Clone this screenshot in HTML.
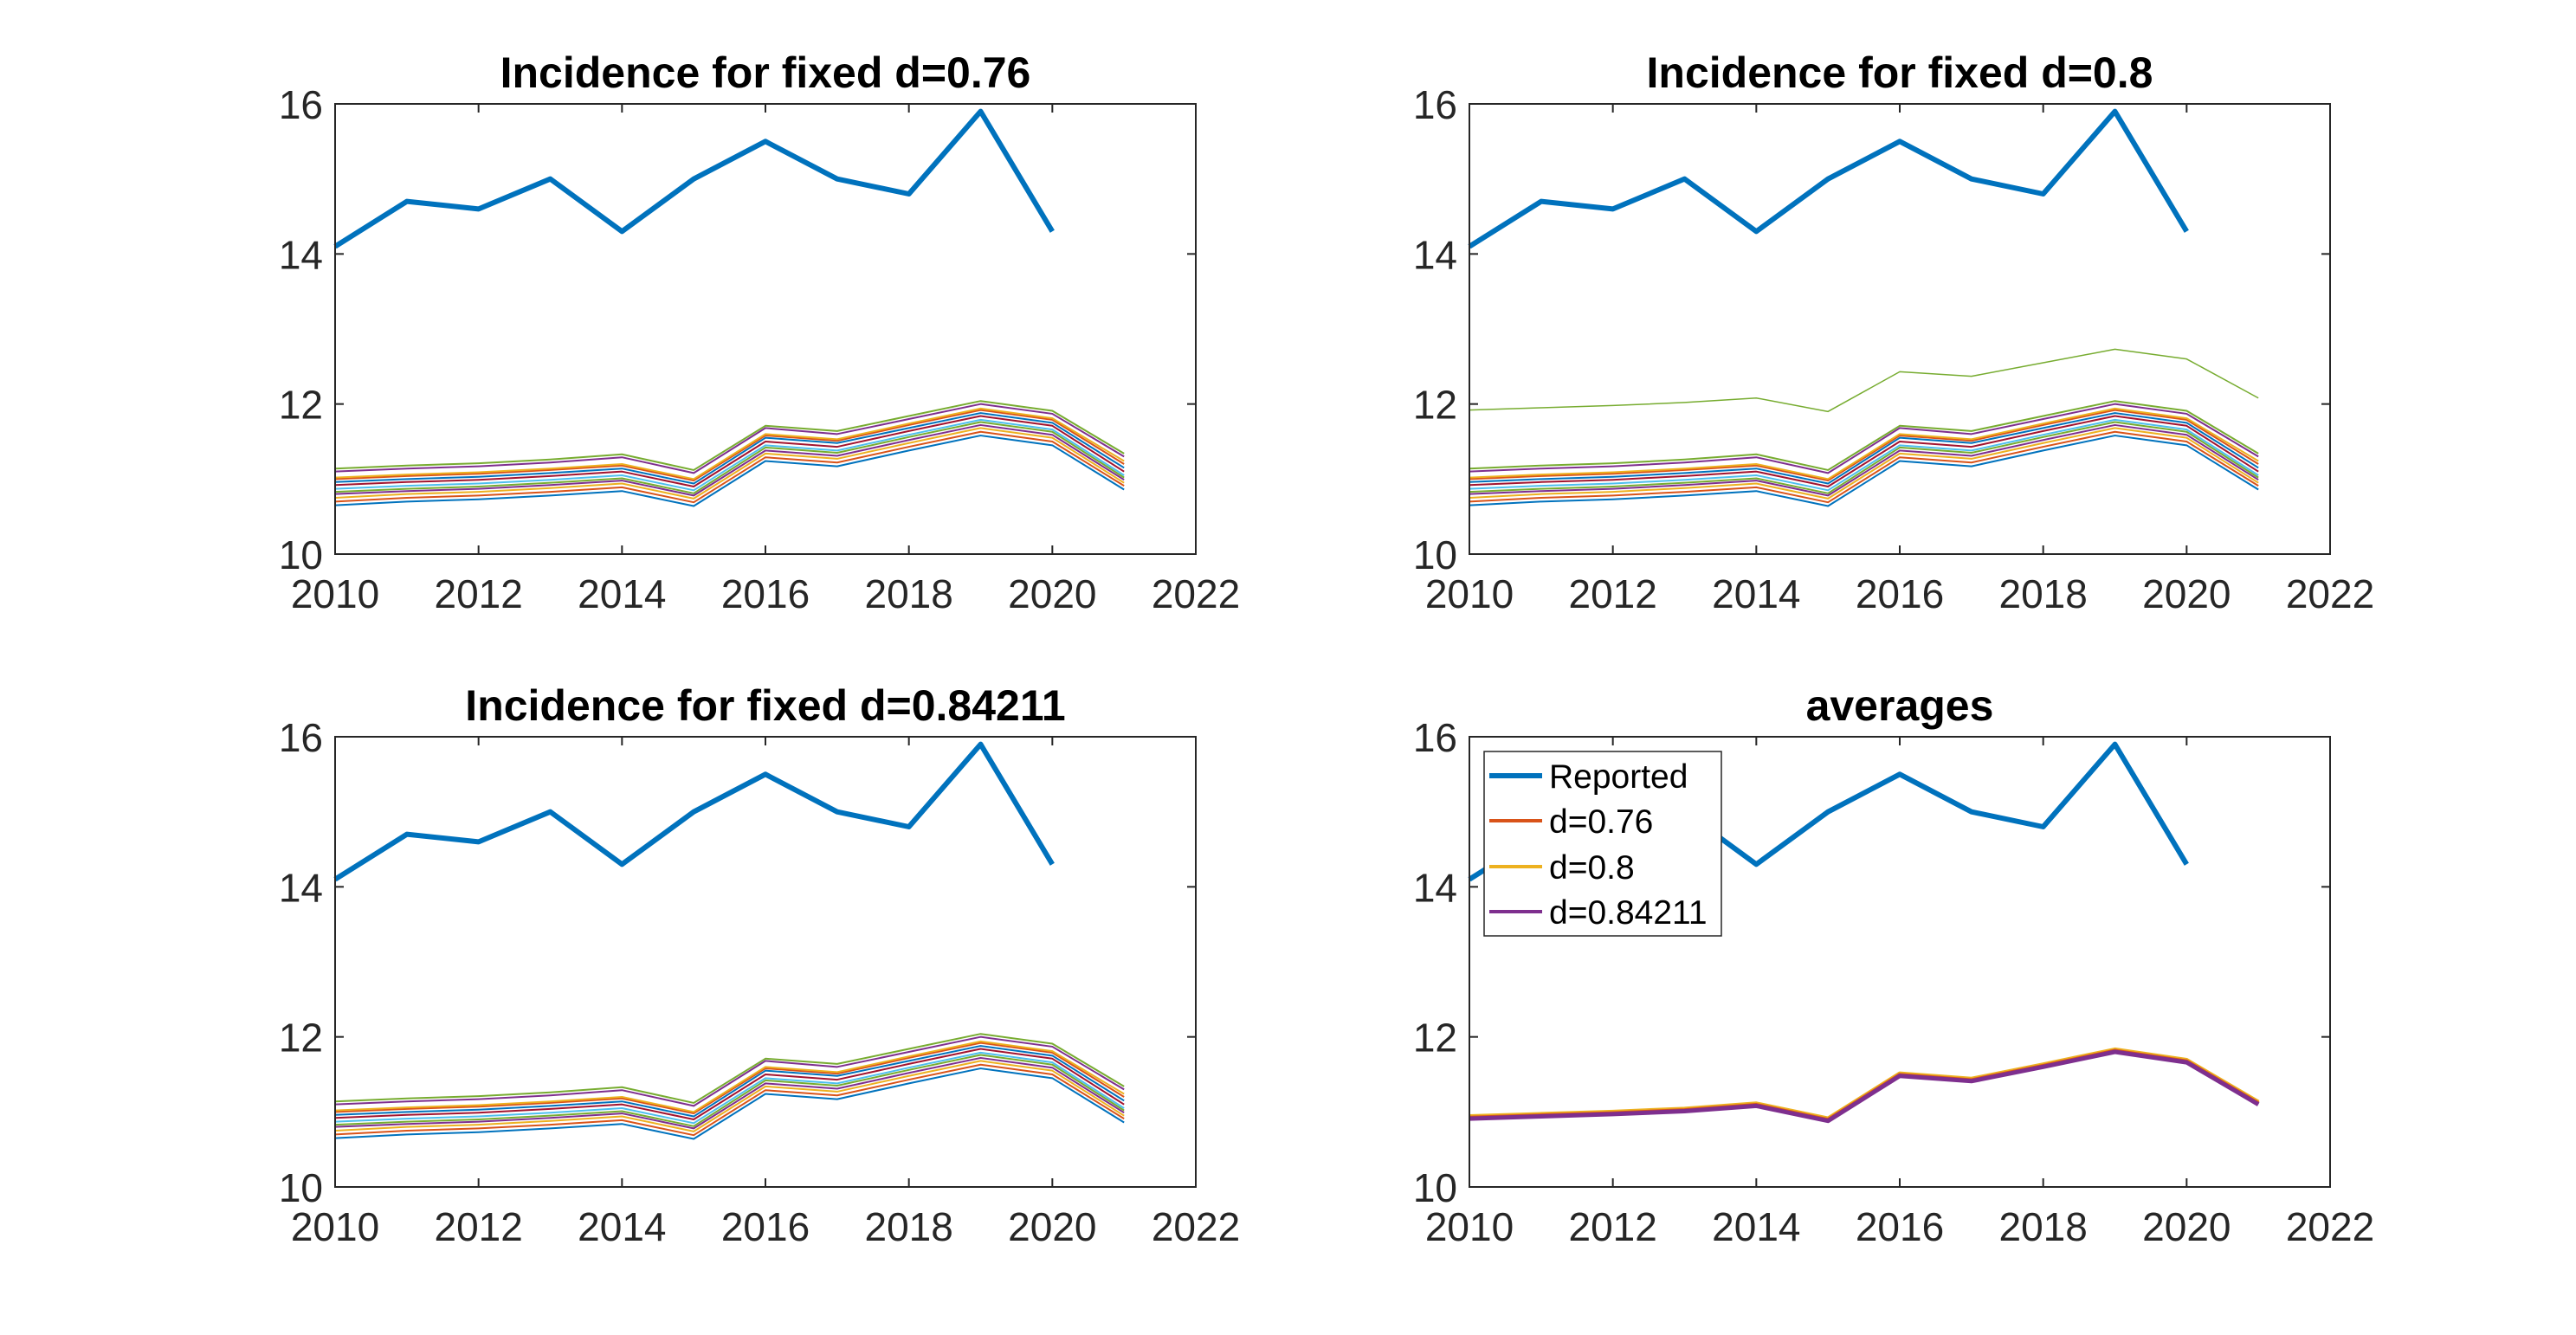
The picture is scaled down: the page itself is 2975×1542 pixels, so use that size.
<!DOCTYPE html>
<html><head><meta charset="utf-8"><style>
html,body{margin:0;padding:0;background:#fff;}
svg{display:block;font-family:"Liberation Sans",Arial,sans-serif;}
</style></head><body>
<svg id="fig" width="2975" height="1542" viewBox="0 0 2975 1542" xmlns="http://www.w3.org/2000/svg"></svg>
<script>
const years=[2010,2011,2012,2013,2014,2015,2016,2017,2018,2019,2020,2021];
const reportedYears=[2010,2011,2012,2013,2014,2015,2016,2017,2018,2019,2020];
const reported=[14.1,14.7,14.6,15.0,14.3,15.0,15.5,15.0,14.8,15.9,14.3];
const xTicks=[2010,2012,2014,2016,2018,2020,2022];
const yTicks=[10,12,14,16];
const colors=['#0072BD','#D95319','#EDB120','#7E2F8E','#77AC30','#4DBEEE','#A2142F'];
const fan1=[
[10.65,10.70,10.73,10.78,10.84,10.64,11.24,11.17,11.38,11.58,11.45,10.86],
[10.70,10.75,10.78,10.83,10.89,10.69,11.29,11.22,11.43,11.63,11.50,10.91],
[10.75,10.80,10.83,10.88,10.94,10.74,11.34,11.27,11.48,11.68,11.55,10.95],
[10.80,10.84,10.87,10.92,10.98,10.78,11.38,11.31,11.52,11.72,11.59,10.99],
[10.83,10.87,10.90,10.95,11.01,10.81,11.42,11.35,11.56,11.76,11.63,11.02],
[10.87,10.91,10.94,10.99,11.05,10.85,11.45,11.38,11.59,11.79,11.66,11.05],
[10.92,10.96,10.99,11.04,11.10,10.90,11.50,11.43,11.64,11.84,11.71,11.10],
[10.96,11.00,11.03,11.08,11.14,10.94,11.55,11.48,11.68,11.88,11.75,11.15],
[11.00,11.04,11.07,11.12,11.18,10.98,11.58,11.51,11.72,11.92,11.79,11.20],
[11.02,11.06,11.09,11.14,11.20,11.00,11.60,11.53,11.74,11.94,11.81,11.24],
[11.10,11.14,11.17,11.22,11.29,11.08,11.68,11.60,11.80,12.00,11.87,11.30],
[11.14,11.18,11.21,11.26,11.33,11.12,11.71,11.64,11.84,12.04,11.91,11.34]];
const fan2extra=[11.92,11.95,11.98,12.02,12.08,11.90,12.43,12.37,12.55,12.73,12.60,12.08];
const avg76=[10.92,10.95,10.98,11.02,11.09,10.89,11.49,11.42,11.61,11.81,11.67,11.11];
const avg80=[10.94,10.97,11.00,11.04,11.11,10.91,11.51,11.44,11.63,11.83,11.69,11.13];
const avg84=[10.91,10.94,10.97,11.01,11.08,10.88,11.48,11.41,11.60,11.80,11.66,11.10];
const titles=['Incidence for fixed d=0.76','Incidence for fixed d=0.8','Incidence for fixed d=0.84211','averages'];
const legendLabels=['Reported','d=0.76','d=0.8','d=0.84211'];

const NS='http://www.w3.org/2000/svg';
const svg=document.getElementById('fig');
function mk(tag,attrs,parent){const e=document.createElementNS(NS,tag);for(const k in attrs)e.setAttribute(k,attrs[k]);(parent||svg).appendChild(e);return e;}
const boxes=[[387,120,1381,640],[1697,120,2691,640],[387,851,1381,1371],[1697,851,2691,1371]];
const panelNames=['panel-d076','panel-d08','panel-d084211','panel-averages'];

boxes.forEach((b,pi)=>{
  const [L,T,R,B]=b;
  const g=mk('g',{});
  
  
  const sx=v=>L+(v-2010)/(2022-2010)*(R-L);
  const sy=v=>B-(v-10)/(16-10)*(B-T);
  const line=(xs,ys,col,w,name)=>{
    const p=mk('polyline',{points:xs.map((x,i)=>sx(x)+','+sy(ys[i])).join(' '),fill:'none',stroke:col,'stroke-width':w,'stroke-linejoin':'round'},g);
    
    
  };
  if(pi<3){
    fan1.forEach((s,i)=>line(years,s,colors[i%7],2,'model-line-'+(i+1)));
    if(pi===1) line(years,fan2extra,'#77AC30',1.5,'model-line-high');
  } else {
    line(years,avg80,'#EDB120',5,'avg-line-d08');
    line(years,avg76,'#D95319',5,'avg-line-d076');
    line(years,avg84,'#7E2F8E',5,'avg-line-d084211');
  }
  line(reportedYears,reported,'#0072BD',6,'reported-line');
  const fr=mk('rect',{x:L,y:T,width:R-L,height:B-T,fill:'none',stroke:'#262626','stroke-width':2},g);
  
  
  xTicks.forEach(t=>{
    const x=sx(t);
    mk('line',{x1:x,y1:B,x2:x,y2:B-10,stroke:'#262626','stroke-width':2},g);
    mk('line',{x1:x,y1:T,x2:x,y2:T+10,stroke:'#262626','stroke-width':2},g);
    const tx=mk('text',{x:x,y:B+62,'text-anchor':'middle','font-size':46,fill:'#262626'},g);
    tx.textContent=t;
    
    
  });
  yTicks.forEach(t=>{
    const y=sy(t);
    mk('line',{x1:L,y1:y,x2:L+10,y2:y,stroke:'#262626','stroke-width':2},g);
    mk('line',{x1:R,y1:y,x2:R-10,y2:y,stroke:'#262626','stroke-width':2},g);
    const tx=mk('text',{x:L-14,y:y+17,'text-anchor':'end','font-size':46,fill:'#262626'},g);
    tx.textContent=t;
    
    
  });
  const ti=mk('text',{x:(L+R)/2,y:T-19,'text-anchor':'middle','font-size':50,'font-weight':'bold',fill:'#000'},g);
  ti.textContent=titles[pi];
  
  
});

// legend
const lg=mk('g',{});


mk('rect',{x:1714,y:868,width:274,height:213,fill:'#fff',stroke:'#262626','stroke-width':1.5},lg);
const legCols=['#0072BD','#D95319','#EDB120','#7E2F8E'];
const legW=[6,4,4,4];
const legY=[896,948,1001,1053];
legendLabels.forEach((lab,i)=>{
  const e=mk('g',{},lg);
  
  
  mk('line',{x1:1720,y1:legY[i],x2:1781,y2:legY[i],stroke:legCols[i],'stroke-width':legW[i]},e);
  const t=mk('text',{x:1789,y:legY[i]+14,'font-size':39,fill:'#000'},e);
  t.textContent=lab;
});
</script>
</body></html>
